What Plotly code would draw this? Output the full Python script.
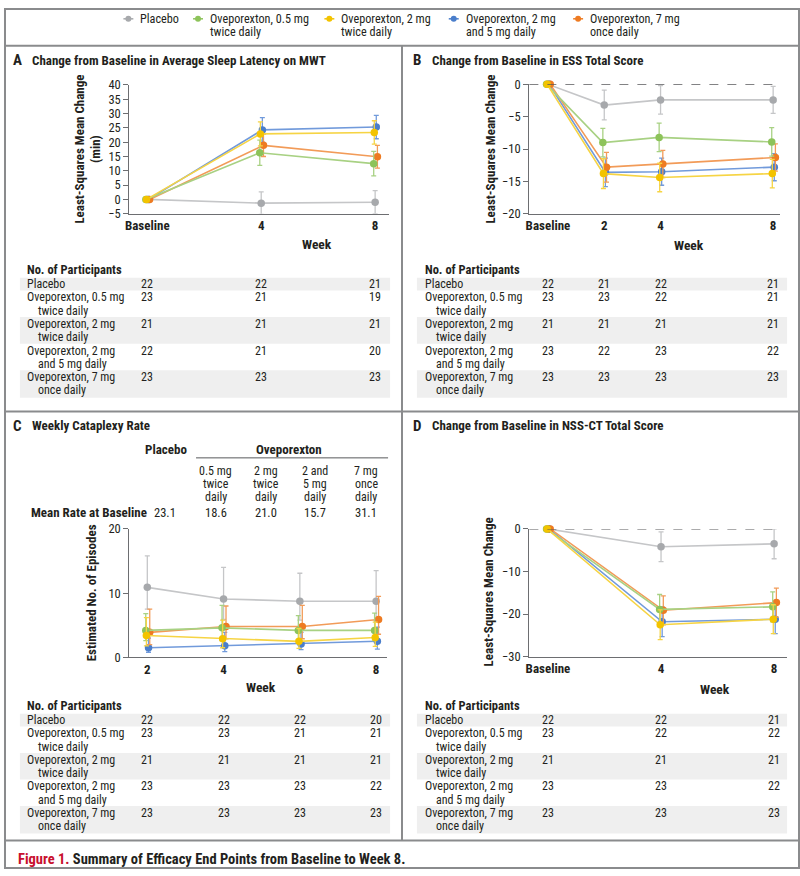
import plotly.graph_objects as go

W, H = 800, 876
FONT = "Liberation Sans Narrow, Arial Narrow, Roboto Condensed, Roboto, sans-serif"
DARK = "#231f20"
AXC = "#6d6e71"

# ---------------- data ----------------
series = ["Placebo", "Oveporexton, 0.5 mg twice daily", "Oveporexton, 2 mg twice daily",
          "Oveporexton, 2 mg and 5 mg daily", "Oveporexton, 7 mg once daily"]
legend_line1 = ["Placebo", "Oveporexton, 0.5 mg", "Oveporexton, 2 mg", "Oveporexton, 2 mg", "Oveporexton, 7 mg"]
legend_line2 = ["", "twice daily", "twice daily", "and 5 mg daily", "once daily"]
row_line1 = legend_line1
row_line2 = legend_line2

# Panel A: MWT change (min)
a_weeks = [0, 4, 8]
a_ticktext = ["Baseline", "4", "8"]
a_mean = [[0, -1.3, -1.0], [0, 16.3, 12.5], [0, 22.9, 23.4], [0, 24.3, 25.3], [0, 18.9, 14.9]]
a_err = [[0, 3.9, 4.1], [0, 4.4, 4.3], [0, 4.2, 4.1], [0, 4.3, 4.1], [0, 3.9, 4.0]]
a_n = [[22, 22, 21], [23, 21, 19], [21, 21, 21], [22, 21, 20], [23, 23, 23]]

# Panel B: ESS change
b_weeks = [0, 2, 4, 8]
b_ticktext = ["Baseline", "2", "4", "8"]
b_mean = [[0, -3.2, -2.4, -2.4], [0, -9.0, -8.2, -8.9], [0, -13.8, -14.4, -13.8],
          [0, -13.6, -13.5, -12.8], [0, -12.8, -12.3, -11.3]]
b_err = [[0, 2.3, 2.2, 2.1], [0, 2.2, 2.2, 2.2], [0, 2.3, 2.2, 2.2],
         [0, 2.2, 2.1, 2.1], [0, 2.3, 2.1, 2.1]]
b_n = [[22, 21, 22, 21], [23, 23, 22, 21], [21, 21, 21, 21], [23, 22, 23, 22], [23, 23, 23, 23]]

# Panel C: weekly cataplexy rate
c_weeks = [2, 4, 6, 8]
c_ticktext = ["2", "4", "6", "8"]
c_mean = [[10.9, 9.1, 8.75, 8.75], [4.2, 4.6, 4.2, 4.2], [3.4, 2.9, 2.5, 3.1],
          [1.5, 1.8, 2.1, 2.5], [3.9, 4.8, 4.8, 5.9]]
c_upper = [[15.8, 14.0, 13.1, 13.5], [6.8, 8.1, 6.5, 6.9], [6.2, 5.8, 4.5, 5.5],
           [3.0, 3.9, 3.9, 4.7], [7.5, 8.0, 8.1, 9.5]]
c_lower = [[7.5, 5.9, 5.8, 5.7], [2.6, 2.6, 2.7, 2.6], [1.8, 1.5, 1.4, 1.7],
           [0.8, 0.9, 1.2, 1.3], [2.0, 2.9, 2.9, 3.6]]
c_n = [[22, 22, 22, 20], [23, 23, 21, 21], [21, 21, 21, 21], [23, 23, 23, 22], [23, 23, 23, 23]]
c_group_cols = ["0.5 mg|twice|daily", "2 mg|twice|daily", "2 and|5 mg|daily", "7 mg|once|daily"]
c_baseline_rate = ["23.1", "18.6", "21.0", "15.7", "31.1"]

# Panel D: NSS-CT change
d_weeks = [0, 4, 8]
d_ticktext = ["Baseline", "4", "8"]
d_mean = [[0, -4.2, -3.5], [0, -18.9, -18.3], [0, -22.5, -21.2], [0, -21.8, -21.2], [0, -19.1, -17.3]]
d_err = [[0, 3.5, 3.5], [0, 3.5, 3.5], [0, 3.5, 3.4], [0, 3.5, 3.4], [0, 3.4, 3.4]]
d_n = [[22, 22, 21], [23, 22, 22], [21, 21, 21], [23, 23, 22], [23, 23, 23]]

# ---------------- style ----------------
marker_colors = ["#a7a9ac", "#8dc35a", "#f3c300", "#4a7ecb", "#ee7b22"]
line_colors = ["#c5c6c8", "#a8d183", "#f6d444", "#719adb", "#f29b58"]
dodge = [0.0, -0.05, -0.03, 0.04, 0.08]
draw_order = [0, 3, 4, 1, 2]
TXT = 12  # table / body text size


def px(x):
    return x / W


def py(y):
    return 1 - y / H


fig = go.Figure()


def add_series(k, weeks, means, up, lo, dodge_scale):
    for i in draw_order:
        xs = [w + dodge[i] * dodge_scale for w in weeks]
        fig.add_trace(go.Scatter(
            x=xs, y=means[i], mode="lines+markers", name=series[i],
            line=dict(color=line_colors[i], width=1.6),
            marker=dict(color=marker_colors[i], size=7.5),
            error_y=dict(type="data", symmetric=False, array=up[i], arrayminus=lo[i],
                         color=line_colors[i], thickness=1.3, width=2.5),
            xaxis="x" if k == 1 else f"x{k}", yaxis="y" if k == 1 else f"y{k}",
            showlegend=False, cliponaxis=False, hoverinfo="skip"))


add_series(1, a_weeks, a_mean, a_err, a_err, 1.0)
add_series(2, b_weeks, b_mean, b_err, b_err, 1.0)
c_up = [[u - m for u, m in zip(cu, cm)] for cu, cm in zip(c_upper, c_mean)]
c_lo = [[m - l for l, m in zip(cl, cm)] for cl, cm in zip(c_lower, c_mean)]
add_series(3, c_weeks, c_mean, c_up, c_lo, 0.8)
add_series(4, d_weeks, d_mean, d_err, d_err, 1.0)


def xax(domain, rng, tickvals, ticktext, anchor):
    return dict(domain=domain, range=rng, tickvals=tickvals, ticktext=ticktext, anchor=anchor,
                showline=True, linecolor=AXC, linewidth=1.3, ticks="", showgrid=False, zeroline=False,
                tickfont=dict(size=13, color=DARK, family=FONT, weight="bold"))


def yax(domain, rng, dtick, anchor):
    return dict(domain=domain, range=rng, dtick=dtick, anchor=anchor,
                showline=True, linecolor=AXC, linewidth=1.3, ticks="outside", ticklen=5,
                tickcolor=AXC, tickwidth=1.2, showgrid=False, zeroline=False,
                tickfont=dict(size=12.5, color=DARK, family=FONT))


layout = dict(
    width=W, height=H, margin=dict(l=0, r=0, t=0, b=0),
    paper_bgcolor="white", plot_bgcolor="rgba(0,0,0,0)", showlegend=False,
    font=dict(family=FONT, color=DARK, size=12),
    xaxis=xax([px(126), px(387)], [-0.629, 8.489], a_weeks, a_ticktext, "y"),
    yaxis=yax([py(209.3), py(78.3)], [-5, 40], 5, "x"),
    xaxis2=xax([px(528), px(780)], [-0.661, 8.247], b_weeks, b_ticktext, "y2"),
    yaxis2=yax([py(209.3), py(77.7)], [-20, 0], 5, "x2"),
    xaxis3=xax([px(126), px(385)], [1.530, 8.287], c_weeks, c_ticktext, "y3"),
    yaxis3=yax([py(660.7), py(530)], [0, 20], 10, "x3"),
    xaxis4=xax([px(528), px(787)], [-0.658, 8.458], d_weeks, d_ticktext, "y4"),
    yaxis4=yax([py(660), py(530)], [-30, 0], 10, "x4"),
)
fig.update_layout(**layout)

shapes = []
ann = []


def text(x, y, s, size=TXT, bold=False, color=DARK, xanchor="left", xref="paper", angle=0):
    ann.append(dict(x=x if xref != "paper" else px(x), y=py(y), xref=xref, yref="paper",
                    text=s, showarrow=False, xanchor=xanchor, yanchor="middle", textangle=angle,
                    borderpad=0,
                    font=dict(family=FONT, size=size, color=color, weight="bold" if bold else "normal")))


def line(x0, y0, x1, y1, color="#8a8b8d", width=2, dash="solid"):
    shapes.append(dict(type="line", xref="paper", yref="paper", x0=px(x0), y0=py(y0), x1=px(x1), y1=py(y1),
                       line=dict(color=color, width=width, dash=dash)))


# frame
line(1, 0, 1, 876)
line(799, 0, 799, 876)
line(0, 1, 800, 1)
line(0, 875, 800, 875)
line(0, 38.5, 800, 38.5)
line(400, 38.5, 400, 847)
line(0, 410.5, 800, 410.5)
line(0, 847, 800, 847)

# legend
leg_marker_x = [125, 195, 327, 452, 577]
for i in range(5):
    mx = leg_marker_x[i]
    line(mx - 5, 11, mx + 5, 11, color=marker_colors[i], width=1.5)
    shapes.append(dict(type="circle", xref="paper", yref="paper", x0=px(mx - 3), x1=px(mx + 3),
                       y0=py(14), y1=py(8), fillcolor=marker_colors[i], line=dict(width=0)))
    text(mx + 11, 11, legend_line1[i], size=12.2)
    if legend_line2[i]:
        text(mx + 11, 24.5, legend_line2[i], size=12.2)

# panel titles
titles = [(8, 53, "A", "Change from Baseline in Average Sleep Latency on MWT"),
          (410, 53, "B", "Change from Baseline in ESS Total Score"),
          (8, 425, "C", "Weekly Cataplexy Rate"),
          (410, 425, "D", "Change from Baseline in NSS-CT Total Score")]
for x, y, letter, t in titles:
    text(x, y, letter, size=15, bold=True)
    text(x + 19, y, t, size=13, bold=True)

# axis titles
text(84, 143.5, "Least-Squares Mean Change<br>(min)", size=13, bold=True, xanchor="center", angle=-90)
text(488, 143.5, "Least-Squares Mean Change", size=13, bold=True, xanchor="center", angle=-90)
text(88, 595, "Estimated No. of Episodes", size=13, bold=True, xanchor="center", angle=-90)
text(487, 594, "Least-Squares Mean Change", size=13, bold=True, xanchor="center", angle=-90)
text(315, 240, "Week", size=13.5, bold=True, xanchor="center")
text(688, 241.5, "Week", size=13.5, bold=True, xanchor="center")
text(258, 691, "Week", size=13.5, bold=True, xanchor="center")
text(715, 692.5, "Week", size=13.5, bold=True, xanchor="center")

# dashed zero lines
for k in (2, 4):
    shapes.append(dict(type="line", xref=f"x{k} domain", yref=f"y{k}", x0=0, x1=0.975, y0=0, y1=0,
                       line=dict(color="#58595b", width=1.3, dash="dash")))

# panel C header
text(163, 449, "Placebo", size=13, bold=True, xanchor="center")
text(286, 449, "Oveporexton", size=13, bold=True, xanchor="center")
line(193, 457.7, 386, 457.7, color="#58595b", width=1)
col_x = [213, 263, 313, 364]
for cx, lab in zip(col_x, c_group_cols):
    for j, part in enumerate(lab.split("|")):
        text(cx, 471 + 13.3 * j, part, size=TXT, xanchor="center")
text(26, 513, "Mean Rate at Baseline", size=13, bold=True)
for cx, v in zip([162] + col_x, c_baseline_rate):
    text(cx, 513, v, size=12.5, xanchor="center")

# participant tables
row_off1 = [14, 28, 55, 82, 109]
bands = [(8, 21), (48, 75), (102, 130)]


def table(xref, left, bx0, bx1, hy, weeks, counts):
    for b0, b1 in bands:
        shapes.append(dict(type="rect", xref="paper", yref="paper", x0=px(bx0), x1=px(bx1),
                           y0=py(hy + b1), y1=py(hy + b0), fillcolor="#efefef", line=dict(width=0),
                           layer="below"))
    text(left, hy - 0.5, "No. of Participants", size=12.5, bold=True)
    for i in range(5):
        y1 = hy + row_off1[i]
        text(left, y1, row_line1[i], size=TXT)
        if row_line2[i]:
            text(left + 11, y1 + 13.5, row_line2[i], size=TXT)
        for w, n in zip(weeks, counts[i]):
            text(w, y1, str(n), size=TXT, xanchor="center", xref=xref)


table("x", 22, 16, 388, 266.5, a_weeks, a_n)
table("x2", 422, 415, 787, 266.5, b_weeks, b_n)
table("x3", 22, 16, 388, 710, c_weeks, c_n)
table("x4", 422, 415, 787, 710, d_weeks, d_n)

# caption
text(13, 866, "<span style='color:#c8102e'>Figure 1.</span> Summary of Efficacy End Points from Baseline to Week 8.",
     size=14.5, bold=True)

fig.update_layout(shapes=shapes, annotations=ann)
fig.write_html("out.html", config={"displayModeBar": False},
               post_script="document.body.style.margin='0';document.body.style.overflow='hidden';")
